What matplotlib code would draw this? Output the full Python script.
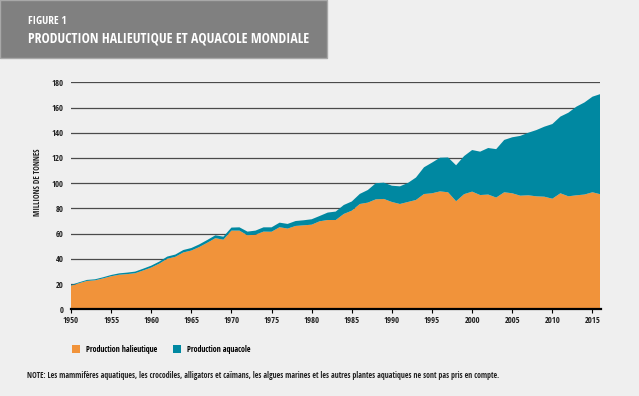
import matplotlib
matplotlib.use("Agg")
import matplotlib.pyplot as plt
from matplotlib.patches import Rectangle

# Data (millions of tonnes)
years = list(range(1950, 2017))
capture = [
    18.7, 20.7, 22.5, 23.0, 24.5, 26.2, 27.4, 27.9, 28.6, 30.8,
    33.1, 36.2, 40.1, 41.6, 45.1, 46.6, 49.4, 52.8, 56.4, 55.2,
    62.4, 62.4, 58.7, 59.2, 61.6, 61.5, 65.1, 64.0, 66.1, 66.6,
    67.1, 69.8, 70.8, 70.8, 75.6, 78.2, 83.5, 84.6, 87.2, 87.5,
    85.1, 83.5, 85.1, 86.7, 91.4, 92.0, 93.5, 92.8, 85.7, 91.3,
    93.3, 90.6, 91.0, 88.6, 92.8, 92.0, 90.1, 90.4, 89.6, 89.3,
    87.7, 92.0, 89.6, 90.4, 91.0, 92.8, 91.2,
]
aquaculture = [
    0.6, 0.7, 0.8, 0.8, 0.9, 1.0, 1.1, 1.2, 1.3, 1.4,
    1.5, 1.6, 1.7, 1.8, 1.9, 2.0, 2.1, 2.2, 2.3, 2.4,
    2.4, 2.6, 2.9, 3.2, 3.4, 3.5, 3.6, 3.7, 3.9, 4.0,
    4.3, 4.2, 5.9, 6.7, 7.1, 7.3, 8.0, 10.0, 12.8, 12.9,
    12.9, 14.0, 15.1, 17.8, 21.2, 24.3, 26.7, 27.6, 28.5, 30.2,
    33.0, 34.4, 36.9, 38.4, 41.5, 44.4, 47.4, 49.6, 52.5, 55.5,
    59.2, 60.8, 66.3, 70.3, 73.0, 75.8, 79.5,
]
series_labels = ["Production halieutique", "Production aquacole"]
yticks = list(range(0, 181, 20))
xticks = list(range(1950, 2016, 5))

orange = "#f1933a"
teal = "#0088a1"
bg = "#efefef"
ink = "#222222"

plt.rcParams["font.family"] = ["Open Sans Condensed", "DejaVu Sans"]

W, H = 639, 396
fig = plt.figure(figsize=(W / 100, H / 100), dpi=100, facecolor=bg)

# title banner
fig.patches.append(Rectangle((0, 1 - 58 / H), 327 / W, 58 / H, transform=fig.transFigure,
                             facecolor="#808080", edgecolor="#a8a8a8", linewidth=1))
fig.text(28 / W, 1 - 22 / H, "FIGURE 1", color="white", fontsize=8, fontweight="bold", va="center")
fig.text(28 / W, 1 - 38.5 / H, "PRODUCTION HALIEUTIQUE ET AQUACOLE MONDIALE", color="white",
         fontsize=9.9, fontweight="bold", va="center")

ax = fig.add_axes([71 / W, 1 - 309.3 / H, (600.5 - 71) / W, (309.3 - 82.3) / H])
ax.set_facecolor(bg)
ax.stackplot(years, capture, aquaculture, colors=[orange, teal], labels=series_labels,
             linewidth=0, zorder=3)
ax.set_xlim(1950, 2016)
ax.set_ylim(0, 180)
ax.set_yticks(yticks)
ax.set_xticks(xticks)
ax.yaxis.grid(True, color="#4a4a4a", linewidth=0.9, zorder=1)
ax.set_axisbelow(True)
for s in ["top", "right", "left"]:
    ax.spines[s].set_visible(False)
ax.spines["bottom"].set_linewidth(1.6)
ax.spines["bottom"].set_color("black")
ax.spines["bottom"].set_zorder(5)
ax.tick_params(axis="y", length=0, pad=5.5, labelsize=6.2)
ax.tick_params(axis="x", length=3, width=0.8, direction="out", pad=2, labelsize=6.2)
for lab in ax.get_xticklabels() + ax.get_yticklabels():
    lab.set_fontweight("bold")
    lab.set_color(ink)

fig.text(38 / W, 1 - 182 / H, "MILLIONS DE TONNES", rotation=90, ha="center", va="center",
         fontsize=5.8, fontweight="bold", color=ink)

# legend
handles, labels = ax.get_legend_handles_labels()
fig.legend(handles, labels, loc="center left", bbox_to_anchor=(72 / W, 1 - 349 / H),
           frameon=False, ncol=2, handlelength=1.0, handleheight=1.25, borderpad=0,
           borderaxespad=0, handletextpad=0.75, columnspacing=1.9,
           prop={"weight": "bold", "size": 5.8})

fig.text(27 / W, 1 - 376 / H,
         "NOTE: Les mammifères aquatiques, les crocodiles, alligators et caïmans, les algues marines "
         "et les autres plantes aquatiques ne sont pas pris en compte.",
         fontsize=5.7, fontweight="bold", color=ink, va="center")

fig.savefig("out.png", dpi=100, facecolor=bg)
